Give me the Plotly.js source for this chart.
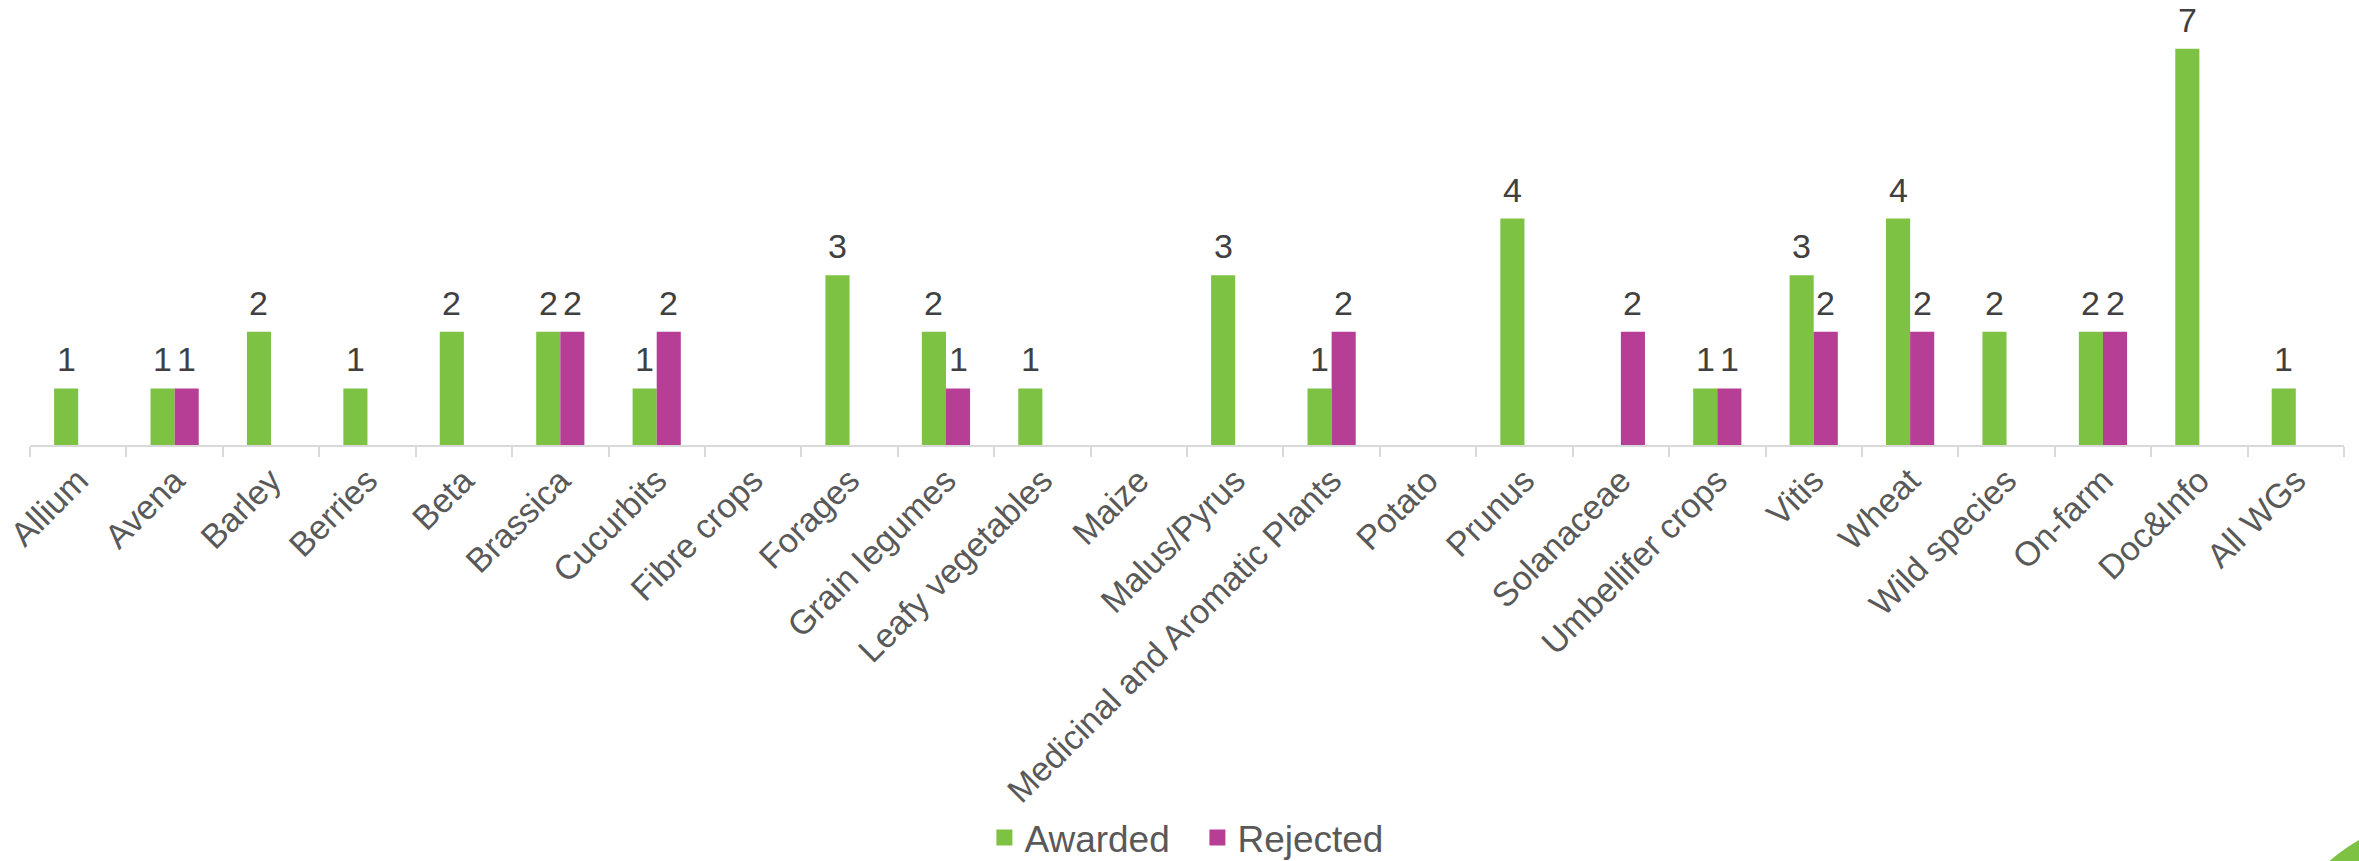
<!DOCTYPE html>
<html>
<head>
<meta charset="utf-8">
<script src="https://cdn.plot.ly/plotly-3.0.1.min.js"></script>
<style>
html,body{margin:0;padding:0;background:#fff;}
#chart{width:2359px;height:861px;}
</style>
</head>
<body>
<div id="chart"></div>
<script>
const categories = ["Allium","Avena","Barley","Berries","Beta","Brassica","Cucurbits","Fibre crops","Forages","Grain legumes","Leafy vegetables","Maize","Malus/Pyrus","Medicinal and Aromatic Plants","Potato","Prunus","Solanaceae","Umbellifer crops","Vitis","Wheat","Wild species","On-farm","Doc&Info","All WGs"];
const awarded  = [1,1,2,1,2,2,1,null,3,2,1,null,3,1,null,4,null,1,3,4,2,2,7,1];
const rejected = [null,1,null,null,null,2,2,null,null,1,null,null,null,2,null,null,2,1,2,2,null,2,null,null];
const seriesNames = ["Awarded","Rejected"];
const seriesColors = ["#7DC243","#B63F95"];

const FONT = "Liberation Sans, Arial, sans-serif";
const W = 2359, H = 861;
const M = {l:30, r:15, t:0, b:416};
const BARGAP = 0.5;
const plotW = W - M.l - M.r;

const series = [awarded, rejected];
const traces = [];
series.forEach((vals, i) => {
  traces.push({type:"bar", name:seriesNames[i], x:categories, y:vals,
   marker:{color:seriesColors[i]}, showlegend:false, hoverinfo:"x+y"});
});
// legend entries (square swatches)
series.forEach((vals, i) => {
  traces.push({type:"scatter", mode:"markers", name:seriesNames[i], x:[null], y:[null],
   marker:{symbol:"square", size:16, color:seriesColors[i]}, showlegend:true, hoverinfo:"skip"});
});

// data labels above each non-empty bar (offset to its slot within the group)
const barPx = plotW / categories.length * (1 - BARGAP) / series.length;
const annotations = [];
series.forEach((vals, i) => {
  const shift = (i - (series.length - 1) / 2) * barPx;
  vals.forEach((v, k) => {
    if (v === null || v === 0) return;
    annotations.push({x:categories[k], y:v, xref:"x", yref:"y", text:String(v),
      showarrow:false, xanchor:"center", yanchor:"bottom", xshift:shift, yshift:9,
      borderpad:0, font:{family:FONT, size:34, color:"#404040"}});
  });
});

const layout = {
  width:W, height:H,
  margin:{l:M.l, r:M.r, t:M.t, b:M.b, autoexpand:false},
  paper_bgcolor:"#ffffff", plot_bgcolor:"#ffffff",
  barmode:"group", bargap:BARGAP, bargroupgap:0,
  font:{family:FONT, color:"#595959"},
  xaxis:{
    type:"category", tickangle:-45, tickson:"boundaries",
    ticks:"outside", ticklen:10, tickcolor:"#D9D9D9", tickwidth:2,
    showline:true, linecolor:"#D9D9D9", linewidth:2,
    tickfont:{family:FONT,size:34,color:"#595959"},
    showgrid:false, zeroline:false, automargin:false
  },
  yaxis:{range:[0,7.86], visible:false, showgrid:false, zeroline:false, fixedrange:true},
  showlegend:true,
  legend:{orientation:"h", x:0.5045, xanchor:"center", y:-0.883, yanchor:"middle",
    font:{family:FONT,size:37,color:"#595959"}, itemwidth:30, traceorder:"normal",
    entrywidth:168, entrywidthmode:"pixels",
    itemsizing:"trace", bgcolor:"rgba(0,0,0,0)"},
  annotations:annotations,
  shapes:[{type:"circle", xref:"paper", yref:"paper", layer:"above",
    x0:(2266-M.l)/plotW, x1:(2634-M.l)/plotW, y0:(445-1184)/445, y1:(445-816)/445,
    fillcolor:"#7DC243", line:{width:0}}]
};

Plotly.newPlot("chart", traces, layout, {displayModeBar:false, staticPlot:true});
</script>
</body>
</html>
